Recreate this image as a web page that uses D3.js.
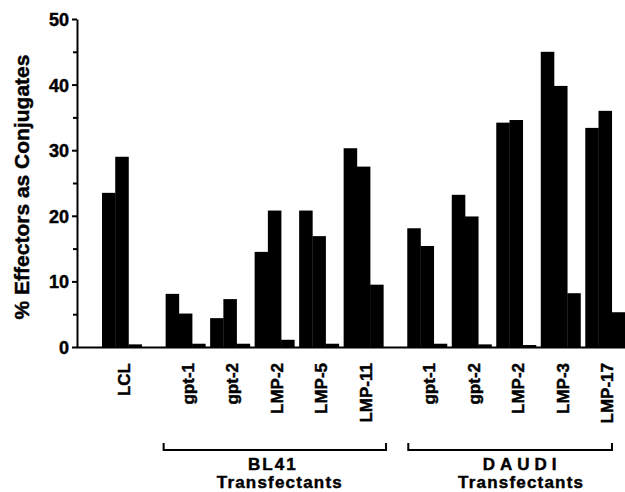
<!DOCTYPE html>
<html>
<head>
<meta charset="utf-8">
<script src="https://cdn.jsdelivr.net/npm/d3@7"></script>
<style>
  body { margin: 0; background: #fff; }
  text { font-family: "Liberation Sans", Arial, Helvetica, sans-serif; font-weight: bold; fill: #000; stroke: #000; stroke-width: 0.45px; }
</style>
</head>
<body>
<div id="chart"></div>
<script>
// data
const categories = ["LCL", "gpt-1", "gpt-2", "LMP-2", "LMP-5", "LMP-11", "gpt-1", "gpt-2", "LMP-2", "LMP-3", "LMP-17"];
const families = ["LCL", "BL41", "BL41", "BL41", "BL41", "BL41", "DAUDI", "DAUDI", "DAUDI", "DAUDI", "DAUDI"];
const series1 = [23.5, 8.1, 4.4, 14.5, 20.8, 30.3, 18.1, 23.2, 34.2, 45.0, 33.4];
const series2 = [29.0, 5.1, 7.3, 20.8, 16.9, 27.5, 15.4, 19.9, 34.6, 39.8, 36.0];
const series3 = [0.4, 0.5, 0.5, 1.1, 0.5, 9.5, 0.5, 0.4, 0.3, 8.2, 5.3];
const yTicks = [0, 10, 20, 30, 40, 50];
const yMinorTicks = [5, 15, 25, 35, 45];
const groupTitles = [
    { family: "BL41", lines: ["BL41", "Transfectants"] },
    { family: "DAUDI", lines: ["DAUDI", "Transfectants"] }
];

const width = 625, height = 492;
const axisX = 77;
const firstX = 102, step = 44.5, familyGap = 0.43;
const groupW = 39.7;

const svg = d3.select("#chart").append("svg")
    .attr("width", width)
    .attr("height", height);

// slot index with extra space between families
let slots = [];
let gaps = 0;
categories.forEach((c, i) => {
    if (i > 0 && families[i] !== families[i - 1]) gaps++;
    slots.push(i + gaps * familyGap);
});
const lastSlot = slots[slots.length - 1];

const x = d3.scaleLinear()
    .domain([0, lastSlot])
    .range([firstX, firstX + step * lastSlot]);

const xInner = d3.scaleBand()
    .domain([0, 1, 2])
    .range([0, groupW]);

const y = d3.scaleLinear()
    .domain([0, 50])
    .range([347, 19]);

// bars
const seriesList = [series1, series2, series3];
const bars = [];
categories.forEach((c, i) => {
    seriesList.forEach((s, k) => bars.push({ i: i, k: k, value: s[i] }));
});

svg.append("g").selectAll("rect")
    .data(bars)
    .join("rect")
    .attr("x", d => x(slots[d.i]) + xInner(d.k))
    .attr("y", d => y(d.value))
    .attr("width", xInner.bandwidth() + 0.3)
    .attr("height", d => y(0) - y(d.value))
    .attr("fill", "#000");

// baseline
svg.append("line")
    .attr("x1", axisX).attr("x2", width)
    .attr("y1", y(0) + 0.5).attr("y2", y(0) + 0.5)
    .attr("stroke", "#000").attr("stroke-width", 2);

// y axis
const yAxis = svg.append("g")
    .attr("transform", `translate(${axisX},0)`)
    .call(d3.axisLeft(y).tickValues(yTicks).tickSize(5).tickSizeOuter(0).tickPadding(3));
yAxis.select(".domain").attr("stroke-width", 2);
yAxis.selectAll(".tick line").attr("stroke-width", 2);
yAxis.selectAll(".tick text")
    .style("font-size", "18px")
    .attr("dy", "0.36em");

const yMinor = svg.append("g")
    .attr("transform", `translate(${axisX},0)`)
    .call(d3.axisLeft(y).tickValues(yMinorTicks).tickSize(4).tickFormat(""));
yMinor.select(".domain").remove();
yMinor.selectAll(".tick line").attr("stroke-width", 2);

// y title
svg.append("text")
    .attr("transform", `translate(29,187) rotate(-90)`)
    .attr("text-anchor", "middle")
    .style("font-size", "21px")
    .text("% Effectors as Conjugates");

// category labels
svg.append("g").selectAll("text")
    .data(categories)
    .join("text")
    .attr("transform", (d, i) => `translate(${x(slots[i]) + groupW / 2 + 2},363) rotate(-90)`)
    .attr("text-anchor", "end")
    .attr("dy", "0.36em")
    .style("font-size", "17px")
    .text(d => d);

// family brackets
const bracketPad = { BL41: [-2, 2.7], DAUDI: [1, -13] };
const textShift = { BL41: [-2, 5], DAUDI: [12, 11] };
const letterSp = { BL41: "2px", DAUDI: "5px" };

groupTitles.forEach(g => {
    const idx = families.map((f, i) => f === g.family ? i : -1).filter(i => i >= 0);
    const x1 = x(slots[idx[0]]) + bracketPad[g.family][0];
    const x2 = x(slots[idx[idx.length - 1]]) + groupW + bracketPad[g.family][1];
    svg.append("path")
        .attr("d", `M${x1},443 V450 H${x2} V443`)
        .attr("fill", "none")
        .attr("stroke", "#000")
        .attr("stroke-width", 2);
    const cx = (x1 + x2) / 2;
    svg.append("text")
        .attr("x", cx + textShift[g.family][0])
        .attr("y", 470)
        .attr("text-anchor", "middle")
        .style("font-size", "17px")
        .style("letter-spacing", letterSp[g.family])
        .text(g.lines[0]);
    svg.append("text")
        .attr("x", cx + textShift[g.family][1])
        .attr("y", 488)
        .attr("text-anchor", "middle")
        .style("font-size", "17px")
        .style("letter-spacing", "1.2px")
        .text(g.lines[1]);
});
</script>
</body>
</html>
